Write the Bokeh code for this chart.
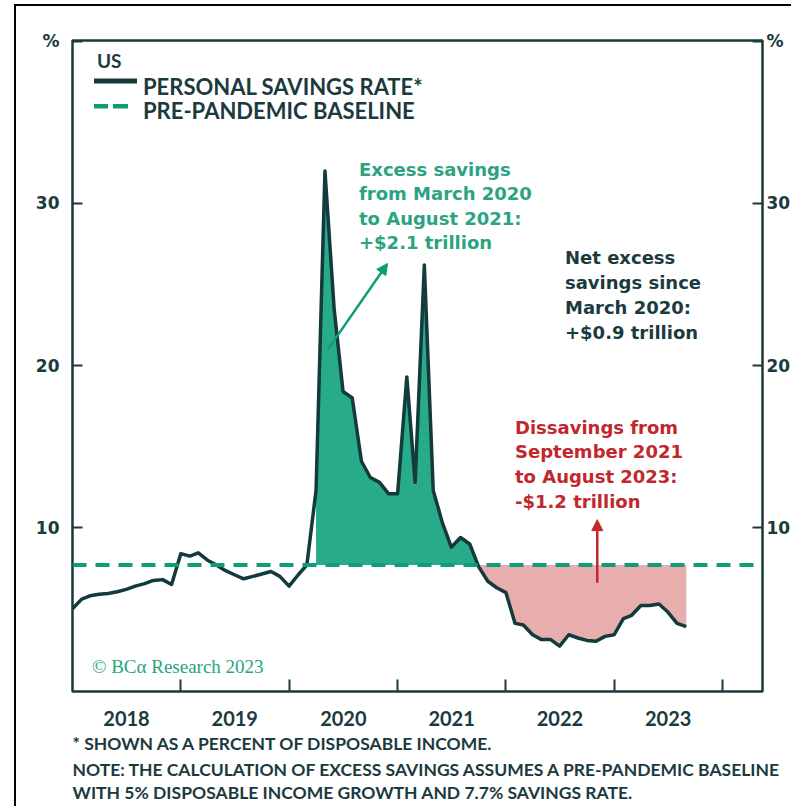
import numpy as np
import pandas as pd
from bokeh.plotting import figure
from bokeh.models import (Range1d, LinearAxis, FixedTicker, DatetimeTickFormatter,
                          Span, Label, Arrow, NormalHead, BoxAnnotation, Title)
from bokeh.embed import file_html
from bokeh.resources import INLINE

# ---- data -------------------------------------------------------------
# US personal savings rate, % of disposable income, monthly Dec 2017 - Aug 2023
months = pd.period_range("2017-12", "2023-08", freq="M")
savings_rate = [
    5.0,
    5.6, 5.8, 5.9, 5.95, 6.05, 6.2, 6.4, 6.55, 6.75, 6.8, 6.5, 8.4,
    8.25, 8.45, 8.0, 7.7, 7.35, 7.1, 6.85, 7.0, 7.15, 7.3, 7.0, 6.4,
    7.1, 7.7, 12.3, 32.0, 23.5, 18.4, 18.0, 14.1, 13.1, 12.8, 12.1, 12.1,
    19.3, 12.8, 26.2, 12.3, 10.3, 8.8, 9.4, 9.0, 7.6, 6.7, 6.3, 6.0,
    4.1, 4.0, 3.4, 3.1, 3.1, 2.7, 3.4, 3.2, 3.05, 3.0, 3.3, 3.4,
    4.4, 4.6, 5.2, 5.2, 5.3, 4.8, 4.1, 3.9,
]
baseline_rate = 7.7
excess_period = ("2020-03", "2021-09")
dissaving_period = ("2021-09", "2023-08")
year_labels = [2018, 2019, 2020, 2021, 2022, 2023]
y_ticks = [10, 20, 30]
unit_tick = 40  # "%" marker drawn at the top of both value axes

# ---- styling ----------------------------------------------------------
DARK = "#1b3a3e"
LINE = "#133a3d"
GREEN_FILL = "#28ab89"
GREEN_DASH = "#0f9e74"
GREEN_TEXT = "#2ba381"
PINK_FILL = "#e8adad"
RED = "#c1272d"
NUM_FONT = "DejaVu Sans"
NOTE_FONT = "Lato"

# the chart sits inside a framed page; canvas origin relative to that page
PX, PY = 16.5, 6.5


def ms(ts):
    return pd.Timestamp(ts).value / 1e6


dates = months.end_time
rate = np.array(savings_rate)
df = pd.DataFrame({"date": dates, "rate": rate}, index=months)

exc = df.loc[pd.Period(excess_period[0]):pd.Period(excess_period[1])]
dis = df.loc[pd.Period(dissaving_period[0]):pd.Period(dissaving_period[1])]

p = figure(width=777, height=802, x_axis_type="datetime",
           x_range=Range1d(ms("2018-01-01"), ms("2024-05-15")),
           y_range=Range1d(-0.1, 40.05),
           output_backend="svg", toolbar_location=None,
           min_border_left=round(72 - PX), min_border_right=28,
           min_border_top=round(40 - PY), min_border_bottom=117)
p.styles = {"margin-left": "14px", "margin-top": "4px",
            "border-left": "2.5px solid #000", "border-top": "2.5px solid #000"}
p.grid.visible = False
p.outline_line_color = DARK
p.outline_line_width = 2.5
p.background_fill_color = "white"
p.border_fill_color = "white"

# shaded areas between the savings rate and the baseline
p.varea(x=exc["date"], y1=baseline_rate, y2=np.maximum(exc["rate"].values, baseline_rate),
        color=GREEN_FILL)
p.varea(x=dis["date"], y1=baseline_rate, y2=np.minimum(dis["rate"].values, baseline_rate),
        color=PINK_FILL)

# savings rate line
p.line(x=df["date"], y=df["rate"], line_color=LINE, line_width=3.5, line_join="round")

# pre-pandemic baseline
p.add_layout(Span(location=baseline_rate, dimension="width", line_color=GREEN_DASH,
                  line_width=4, line_dash="14 9"))

# ---- axes -------------------------------------------------------------
xa = p.xaxis[0]
xa.ticker = FixedTicker(ticks=[ms(f"{y}-07-02") for y in year_labels],
                        minor_ticks=[ms(f"{y + 1}-01-01") for y in year_labels])
xa.formatter = DatetimeTickFormatter(years="%Y", months="%Y", days="%Y", hours="%Y",
                                     hourmin="%Y", minutes="%Y", minsec="%Y",
                                     seconds="%Y", milliseconds="%Y", microseconds="%Y")
xa.axis_line_color = None
xa.major_tick_line_color = None
xa.minor_tick_in = 12
xa.minor_tick_out = 0
xa.minor_tick_line_color = DARK
xa.minor_tick_line_width = 2
xa.major_label_standoff = 13
xa.major_label_text_font = "Lato"
xa.major_label_text_font_style = "bold"
xa.major_label_text_font_size = "20px"
xa.major_label_text_color = DARK

ya = p.yaxis[0]
ya_r = LinearAxis()
p.add_layout(ya_r, "right")
for ax, standoff in ((ya, 13), (ya_r, 4)):
    ax.ticker = FixedTicker(ticks=y_ticks + [unit_tick])
    ax.major_label_overrides = {unit_tick: "%"}
    ax.axis_line_color = None
    ax.major_tick_in = 10
    ax.major_tick_out = 0
    ax.minor_tick_out = 0
    ax.major_tick_line_color = DARK
    ax.major_tick_line_width = 2
    ax.minor_tick_line_color = None
    ax.major_label_standoff = standoff
    ax.major_label_text_font = NUM_FONT
    ax.major_label_text_font_style = "bold"
    ax.major_label_text_font_size = "17px"
    ax.major_label_text_color = DARK


def label(text, x, y, size, color=DARK, font="DejaVu Sans", style="bold", align="left"):
    # x, y: left edge and text baseline on the page
    p.add_layout(Label(x=x - PX, y=y - PY - 8, x_units="canvas", y_units="canvas", text=text,
                       text_font=font, text_font_size=f"{size}px", text_font_style=style,
                       text_color=color, text_align=align, text_baseline="alphabetic"))


def swatch(left, right, top, bottom, color):
    p.add_layout(BoxAnnotation(left=left - PX, right=right - PX, top=top - PY, bottom=bottom - PY,
                               left_units="canvas", right_units="canvas",
                               top_units="canvas", bottom_units="canvas",
                               fill_color=color, fill_alpha=1, line_alpha=0))


# legend
label("US", 95, 66, 19, font="Lato")
swatch(92, 135, 76.5, 81.5, LINE)
swatch(92, 106, 102, 106.5, GREEN_DASH)
swatch(111, 126, 102, 106.5, GREEN_DASH)
label("PERSONAL SAVINGS RATE*", 141, 92, 22, font="Lato")
label("PRE-PANDEMIC BASELINE", 141, 116.5, 22, font="Lato")

# annotations
for i, t in enumerate(["Excess savings", "from March 2020", "to August 2021:", "+$2.1 trillion"]):
    label(t, 357, 175 + 24.5 * i, 18, color=GREEN_TEXT)
for i, t in enumerate(["Net excess", "savings since", "March 2020:", "+$0.9 trillion"]):
    label(t, 563, 263 + 25 * i, 18)
for i, t in enumerate(["Dissavings from", "September 2021", "to August 2023:", "-$1.2 trillion"]):
    label(t, 513, 433 + 24.7 * i, 18, color=RED)

p.add_layout(Arrow(end=NormalHead(size=11, fill_color=GREEN_DASH, line_color=GREEN_DASH),
                   x_start=ms("2020-05-11"), y_start=21.0,
                   x_end=ms("2020-11-28"), y_end=26.3,
                   line_color=GREEN_DASH, line_width=2.5))
p.add_layout(Arrow(end=NormalHead(size=11, fill_color=RED, line_color=RED),
                   x_start=ms("2022-11-05"), y_start=6.6,
                   x_end=ms("2022-11-05"), y_end=10.5,
                   line_color=RED, line_width=2.5))

label("\u00a9 BC\u03b1 Research 2023", 90, 672, 19, color=GREEN_TEXT,
      font="Liberation Serif", style="normal")

# footnotes below the date axis
notes = ["*  SHOWN AS A PERCENT OF DISPOSABLE INCOME.",
         "NOTE: THE CALCULATION OF EXCESS SAVINGS ASSUMES A PRE-PANDEMIC BASELINE",
         "WITH 5% DISPOSABLE INCOME GROWTH AND 7.7% SAVINGS RATE."]
for i, t in enumerate(notes):
    p.add_layout(Title(text=t, align="left", offset=0, standoff=5 if i == 0 else 0,
                       text_font=NOTE_FONT, text_font_size="17.5px",
                       text_font_style="bold", text_color=DARK), "below")

open("out.html", "w").write(file_html(p, INLINE))
